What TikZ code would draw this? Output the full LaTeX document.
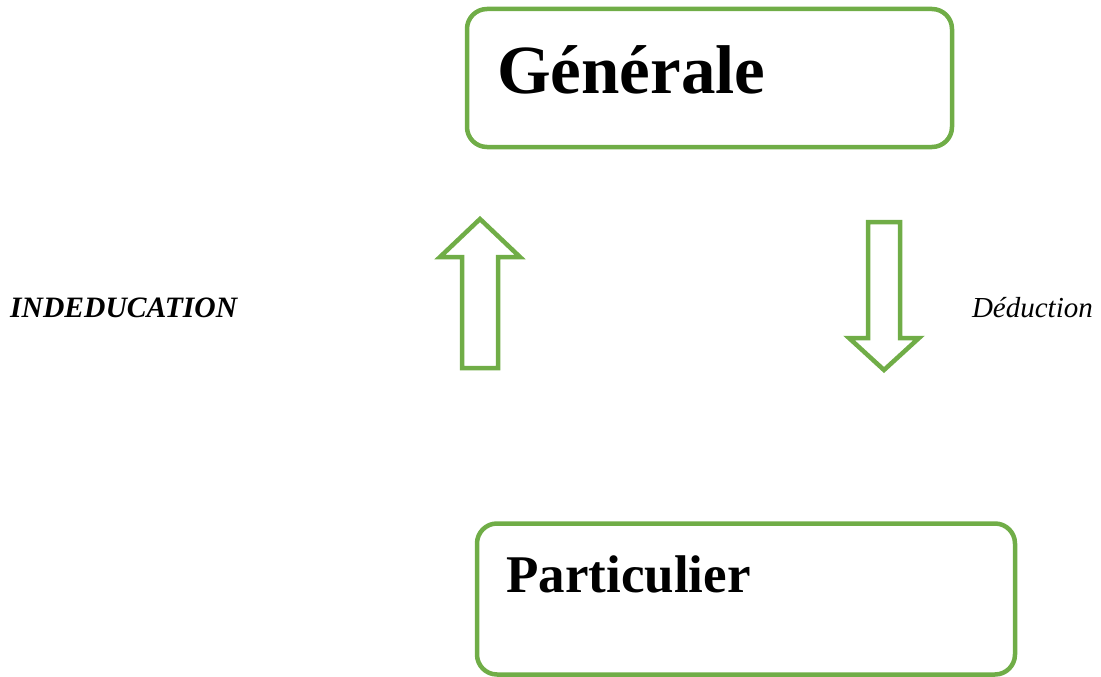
\documentclass[tikz,border=0pt]{standalone}
\usepackage{fontspec}
\setmainfont{Liberation Serif}
\usetikzlibrary{calc}
\usetikzlibrary{positioning}
\definecolor{OfficeGreen}{HTML}{70AD47}

\begin{document}
\begin{tikzpicture}[x=1pt, y=-1pt,
    box/.style={draw=OfficeGreen, line width=4.5pt, rounded corners=20pt,
      inner sep=0pt},
    bigarrow/.style={draw=OfficeGreen, line width=4.5pt, line join=miter}]
  \useasboundingbox (0,0) rectangle (1101,677);

  % the two boxes
  \node[box, minimum width=485pt, minimum height=138pt] (Generale) at (709.5,78) {};
  \node[box, minimum width=538pt, minimum height=151pt] (Particulier) at (746,599) {};

  \node[anchor=base west, inner sep=0pt, font=\fontsize{69}{70}\selectfont\bfseries]
    (GenText) at (497,93) {Générale};
  \node[anchor=base west, inner sep=0pt, font=\fontsize{53}{55}\selectfont\bfseries]
    (PartText) at (506,592) {Particulier};

  % up arrow
  \coordinate (UpTip) at (480,219);
  \draw[bigarrow] (UpTip) -- (520,257) -- (498,257) -- (498,368)
    -- (462,368) -- (462,257) -- (440,257) -- cycle;

  % down arrow
  \coordinate (DownTip) at (884,370);
  \draw[bigarrow] (DownTip) -- (919,338) -- (900,338) -- (900,222)
    -- (868,222) -- (868,338) -- (849,338) -- cycle;

  \node[anchor=base west, inner sep=0pt, font=\fontsize{29.6}{30}\selectfont\bfseries\itshape]
    (Induction) at (10,317) {INDEDUCATION};
  \node[anchor=base east, inner sep=0pt, font=\fontsize{29}{30}\selectfont\itshape]
    (Deduction) at (1093,317) {Déduction};
\end{tikzpicture}
\end{document}
